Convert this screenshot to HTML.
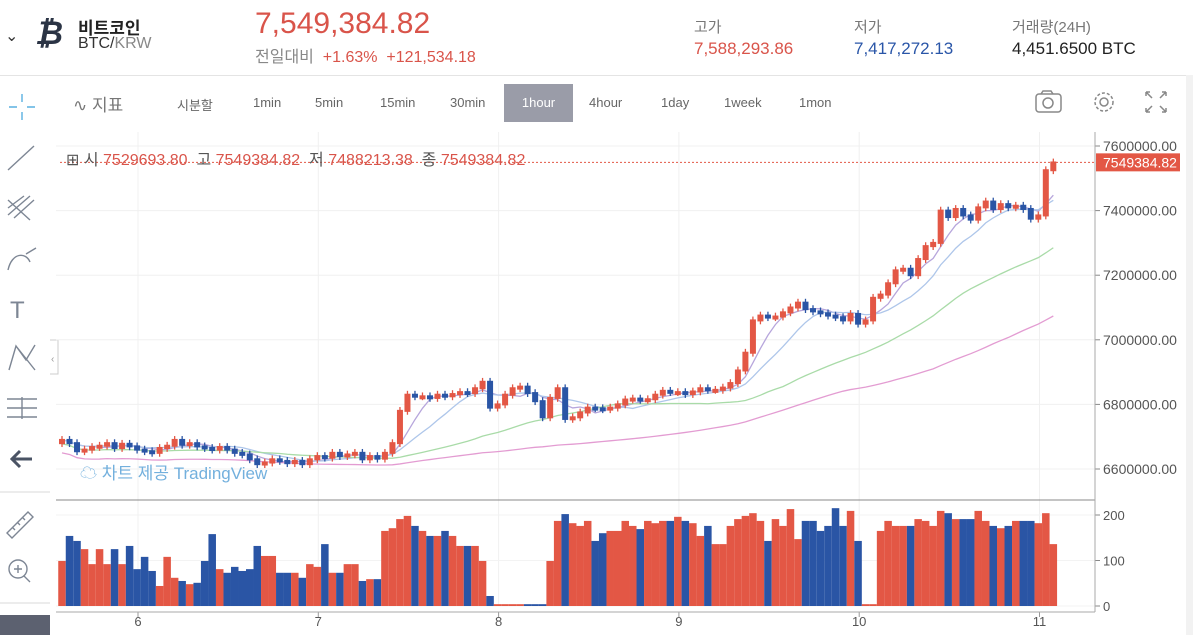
<!DOCTYPE html>
<html><head><meta charset="utf-8">
<style>
body{margin:0;width:1193px;height:635px;overflow:hidden;background:#fff;font-family:"Liberation Sans","Noto Sans CJK KR",sans-serif;position:relative}
.a{position:absolute;white-space:nowrap}
.tb{position:absolute;top:95px;font-size:13px;color:#666}
</style></head><body>
<div class="a" style="left:0;top:0;width:1193px;height:75px;border-bottom:1px solid #e4e4e4"></div>
<div class="a" style="left:5px;top:26px;font-size:16px;color:#333">&#8964;</div>
<div class="a" style="left:35px;top:15px;font-size:32px;font-weight:bold;color:#2b3445;font-style:italic">&#8383;</div>
<div class="a" style="left:78px;top:14px;font-size:17px;font-weight:bold;color:#222">비트코인</div>
<div class="a" style="left:78px;top:35px;font-size:16px;color:#333">BTC/<span style="color:#888">KRW</span></div>
<div class="a" style="left:255px;top:7px;font-size:30px;color:#d9544a">7,549,384.82</div>
<div class="a" style="left:255px;top:43px;font-size:16px;color:#888">전일대비 &nbsp;<span style="color:#d9544a">+1.63% &nbsp;+121,534.18</span></div>
<div class="a" style="left:694px;top:16px;font-size:15px;color:#777">고가</div>
<div class="a" style="left:694px;top:39px;font-size:17px;color:#d9544a">7,588,293.86</div>
<div class="a" style="left:854px;top:16px;font-size:15px;color:#777">저가</div>
<div class="a" style="left:854px;top:39px;font-size:17px;color:#2a56a8">7,417,272.13</div>
<div class="a" style="left:1012px;top:16px;font-size:15px;color:#777">거래량(24H)</div>
<div class="a" style="left:1012px;top:39px;font-size:17px;color:#222">4,451.6500 BTC</div>

<div class="tb" style="left:73px;top:91px;font-size:17px;color:#777">&#8767; 지표</div>
<div class="tb" style="left:177px">시분할</div>
<div class="tb" style="left:253px">1min</div>
<div class="tb" style="left:315px">5min</div>
<div class="tb" style="left:380px">15min</div>
<div class="tb" style="left:450px">30min</div>
<div class="a" style="left:504px;top:84px;width:69px;height:38px;background:#9a9ca8;color:#fff;font-size:13px;line-height:38px;text-align:center">1hour</div>
<div class="tb" style="left:589px">4hour</div>
<div class="tb" style="left:661px">1day</div>
<div class="tb" style="left:724px">1week</div>
<div class="tb" style="left:799px">1mon</div>
<svg class="a" style="left:0;top:0" width="1193" height="635">
 <g fill="none" stroke="#888" stroke-width="1.5"><rect x="1036" y="94" width="25" height="18" rx="3"/><circle cx="1048" cy="103" r="5"/><path d="M1041 94 l2-3 h8 l2 3"/></g>
 <g fill="none" stroke="#888" stroke-width="1.5"><circle cx="1104" cy="102" r="9" stroke-dasharray="3 2"/><circle cx="1104" cy="102" r="4"/></g>
 <g stroke="#888" stroke-width="1.5" fill="none"><path d="M1146 92 l6 6 M1146 92 h4 M1146 92 v4 M1166 92 l-6 6 M1166 92 h-4 M1166 92 v4 M1146 112 l6-6 M1146 112 h4 M1146 112 v-4 M1166 112 l-6-6 M1166 112 h-4 M1166 112 v-4"/></g>
 <g stroke="#7d8694" stroke-width="1.4" fill="none">
  <path d="M22 94 v8 M22 112 v8 M9 107 h8 M27 107 h8" stroke="#5ab0e0"/>
  <path d="M8 170 L34 146"/>
  <path d="M8 215 L30 196 M8 208 L24 196 M14 218 L34 200 M8 200 L30 220"/>
  <path d="M8 270 C12 252 26 252 30 262 M26 254 L36 248"/>
  <text x="10" y="318" font-size="24" fill="#7d8694" stroke="none">T</text>
  <path d="M9 370 L16 346 L26 360 L35 345 M16 346 L35 370"/>
  <path d="M7 399 h30 M7 408 h30 M7 417 h30 M22 397 v22"/>
  <path d="M32 459 H12 M20 451 L12 459 L20 467" stroke="#4a5364" stroke-width="3"/>
  <path d="M0 492 H50 M0 603 H50" stroke="#e6e6e6"/>
  <path d="M7 533 L28 512 L33 517 L12 538 Z M12 527 l3 3 M17 522 l3 3 M22 517 l3 3"/>
  <g><circle cx="18" cy="569" r="9"/><path d="M24 576 l6 6 M14 569 h8 M18 565 v8"/></g>
 </g>
 <rect x="0" y="615" width="50" height="20" fill="#5c6170"/>
 <rect x="1186" y="75" width="7" height="560" fill="#f2f2f2"/>
 <path d="M50 340 h8 v34 h-8" fill="#fff" stroke="#ccc"/><text x="51" y="362" font-size="10" fill="#999">‹</text>
 <g id="chart"></g>
</svg>
<div class="a" style="left:66px;top:146px;font-size:16px;color:#555">&#8862; 시 <span style="color:#d9544a">7529693.80</span> &nbsp;고 <span style="color:#d9544a">7549384.82</span> &nbsp;저 <span style="color:#d9544a">7488213.38</span> &nbsp;종 <span style="color:#d9544a">7549384.82</span></div>
<div class="a" style="left:80px;top:459px;font-size:17px;color:#5ba3d8;opacity:.85">&#9729; 차트 제공 TradingView</div>
<script>
// prices in thousands KRW, hourly candles
const closes=[6690,6680,6655,6660,6668,6672,6680,6665,6678,6670,6660,
6655,6650,6665,6672,6690,6675,6680,6670,6665,6660,
6668,6660,6650,6645,6630,6615,6620,6630,6625,6618,
6625,6615,6630,6640,6635,6650,6640,6645,6650,6630,
6640,6632,6650,6680,6780,6830,
6825,6825,6820,6830,6825,6832,6838,6835,6850,
6870,6790,6800,6830,6850,6855,6835,6810,6760,6820,6850,6755,6760,6775,6790,6788,6785,6790,6800,6815,6818,6814,6816,6830,6842,6838,6838,6832,6840,6850,6845,6845,6852,
6866,6905,6960,7060,7075,7070,7072,7085,7100,7115,7095,7088,7082,7075,7070,7060,7080,7050,7060,7130,7140,7175,7215,7220,7200,7250,7290,7300,7400,7380,7405,7385,7372,7410,7428,7405,7420,7410,7415,7405,7375,7385,7525,7549];
const volumes=[99,154,143,125,92,125,92,125,92,132,81,108,77,44,108,62,55,48,51,99,158,81,73,86,77,81,132,110,110,73,73,73,62,92,86,136,73,73,92,92,55,59,59,165,171,191,198,176,165,154,154,165,154,132,132,132,99,22,4,4,4,4,4,4,4,99,187,202,182,176,187,143,160,165,165,187,176,169,187,182,187,187,196,187,182,154,176,136,136,176,191,198,204,187,143,191,176,213,147,187,187,165,176,215,176,209,143,4,4,165,187,176,176,176,191,187,176,209,204,191,191,191,209,187,176,171,176,187,187,187,182,204,136];
const priceTicks=[7600,7400,7200,7000,6800,6600];
const volTicks=[200,100,0];
const dayLabels=["6","7","8","9","10","11"];
const firstOpen=6680;
const NS="http://www.w3.org/2000/svg";
const g=document.getElementById('chart');
const x=i=>62+i*7.51;
const dayX=d=>138+d*180.3;
const y=p=>146+(7600-p)*0.323;
const yv=v=>606-v*0.455;
function mk(t,a,parent){const e=document.createElementNS(NS,t);for(const k in a)e.setAttribute(k,a[k]);(parent||g).appendChild(e);return e;}
dayLabels.forEach((d,k)=>{const l=mk('line',{x1:dayX(k),x2:dayX(k),y1:132,y2:606,stroke:'#f0f0f0'});


const t=mk('text',{x:dayX(k),y:626,'font-size':13,fill:'#555','text-anchor':'middle'});t.textContent=d;


mk('line',{x1:dayX(k),x2:dayX(k),y1:612,y2:617,stroke:'#999'});});
priceTicks.forEach(p=>{const l=mk('line',{x1:56,x2:1095,y1:y(p),y2:y(p),stroke:'#f0f0f0'});


mk('line',{x1:1095,x2:1100,y1:y(p),y2:y(p),stroke:'#888'});
const t=mk('text',{x:1103,y:y(p)+5,'font-size':14,fill:'#555'});t.textContent=p*1000+'.00';

});
volTicks.forEach(v=>{mk('line',{x1:56,x2:1095,y1:yv(v),y2:yv(v),stroke:'#f3f3f3'});
mk('line',{x1:1095,x2:1100,y1:yv(v),y2:yv(v),stroke:'#888'});
const t=mk('text',{x:1103,y:yv(v)+5,'font-size':13,fill:'#555'});t.textContent=v;

});
mk('line',{x1:56,x2:1095,y1:500,y2:500,stroke:'#888'});
mk('line',{x1:56,x2:1095,y1:612,y2:612,stroke:'#aaa'});
mk('line',{x1:1095,x2:1095,y1:132,y2:612,stroke:'#aaa'});
function sma(n){return closes.map((c,i)=>{const s=closes.slice(Math.max(0,i-n+1),i+1);return s.reduce((a,b)=>a+b,0)/s.length;});}
[[5,'#b7a6dc'],[10,'#aec6ea'],[30,'#a9dba8'],[60,'#e39cd2']].forEach(([n,c])=>{
const m=sma(n);const pl=mk('polyline',{points:m.map((v,i)=>x(i)+','+y(n>=30?v-(n==30?12:40):v)).join(' '),fill:'none',stroke:c,'stroke-width':1.3});

});
closes.forEach((c,i)=>{const o=i?closes[i-1]:firstOpen;const up=c>=o;const col=up?'#e35745':'#2a55a5';
const hi=Math.max(o,c)+12,lo=Math.min(o,c)-12;
const w=mk('line',{x1:x(i),x2:x(i),y1:y(hi),y2:y(lo),stroke:col,'stroke-width':1.3});
const b=mk('rect',{x:x(i)-3,y:y(Math.max(o,c))-1,width:6,height:Math.max(4,Math.abs(y(o)-y(c))+2),fill:col});


const v=mk('rect',{x:x(i)-3.75,y:yv(volumes[i]),width:7.51,height:606-yv(volumes[i]),fill:col});

});
const last=7549.38482;
mk('line',{x1:60,x2:1095,y1:y(last),y2:y(last),stroke:'#e35745','stroke-dasharray':'2 2'});
const r=mk('rect',{x:1096,y:y(last)-9,width:84,height:18,fill:'#e35745'});


const lt=mk('text',{x:1103,y:y(last)+5,'font-size':14,fill:'#fff'});lt.textContent='7549384.82';
</script>
</body></html>
